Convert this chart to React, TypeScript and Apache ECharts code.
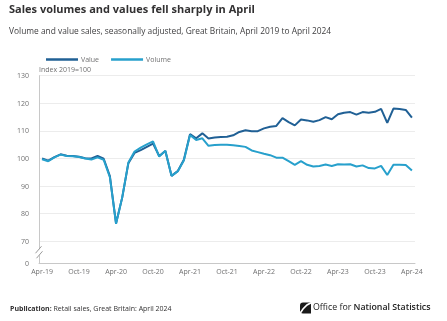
import React, { useEffect, useRef } from 'react';
import * as echarts from 'echarts';

const months = [
  'Apr-19', 'May-19', 'Jun-19', 'Jul-19', 'Aug-19', 'Sep-19', 'Oct-19', 'Nov-19', 'Dec-19',
  'Jan-20', 'Feb-20', 'Mar-20', 'Apr-20', 'May-20', 'Jun-20', 'Jul-20', 'Aug-20', 'Sep-20', 'Oct-20', 'Nov-20', 'Dec-20',
  'Jan-21', 'Feb-21', 'Mar-21', 'Apr-21', 'May-21', 'Jun-21', 'Jul-21', 'Aug-21', 'Sep-21', 'Oct-21', 'Nov-21', 'Dec-21',
  'Jan-22', 'Feb-22', 'Mar-22', 'Apr-22', 'May-22', 'Jun-22', 'Jul-22', 'Aug-22', 'Sep-22', 'Oct-22', 'Nov-22', 'Dec-22',
  'Jan-23', 'Feb-23', 'Mar-23', 'Apr-23', 'May-23', 'Jun-23', 'Jul-23', 'Aug-23', 'Sep-23', 'Oct-23', 'Nov-23', 'Dec-23',
  'Jan-24', 'Feb-24', 'Mar-24', 'Apr-24',
];

const valueSeries = [
  100.0, 99.2, 100.5, 101.5, 101.0, 100.9, 100.6, 100.1, 100.0, 100.9, 99.9, 93.6, 76.5, 85.8, 98.3,
  102.0, 103.0, 104.2, 105.4, 100.9, 102.7, 93.7, 95.4, 99.5, 108.8, 107.3, 109.1, 107.2, 107.6, 107.8,
  107.9, 108.4, 109.6, 110.2, 109.9, 109.9, 110.9, 111.5, 111.8, 114.6, 113.2, 112.0, 114.1, 113.8, 113.3,
  113.9, 115.0, 114.2, 116.0, 116.6, 116.8, 115.9, 116.8, 116.6, 116.9, 118.0, 112.9, 118.1, 117.9, 117.6, 114.8,
];

const volumeSeries = [
  99.7, 99.0, 100.4, 101.4, 100.9, 100.8, 100.5, 100.0, 99.6, 100.4, 99.5, 93.2, 76.3, 85.9, 98.5,
  102.5, 103.9, 105.1, 106.2, 100.7, 102.8, 93.7, 95.3, 99.3, 108.5, 106.7, 107.3, 104.6, 104.9, 105.0,
  105.0, 104.8, 104.5, 104.2, 102.9, 102.3, 101.7, 101.2, 100.3, 100.3, 99.0, 97.7, 99.0, 97.7, 97.1,
  97.3, 97.8, 97.3, 97.9, 97.8, 97.9, 97.1, 97.5, 96.5, 96.4, 97.3, 94.0, 97.7, 97.7, 97.6, 95.6,
];

const yTicks = [62, 70, 80, 90, 100, 110, 120, 130];
const yBreakValue = 66;

const FONT = '"Open Sans", "Noto Sans", sans-serif';
const GRID_LEFT = 39;

export default function App() {
  const ref = useRef<HTMLDivElement>(null);
  useEffect(() => {
    if (!ref.current) return;
    const chart = echarts.init(ref.current, null, { renderer: 'svg' });
    chart.setOption({
      animation: false,
      textStyle: { fontFamily: FONT },
      legend: {
        left: 41,
        top: 51,
        icon: 'rect',
        itemWidth: 32,
        itemHeight: 2.5,
        itemGap: 12,
        textStyle: { fontSize: 7, color: '#707071', fontFamily: FONT, padding: [0, 0, 0, -2] },
        data: ['Value', 'Volume'],
      },
      grid: { left: GRID_LEFT, top: 75.7, width: 376, height: 187.6, containLabel: false },
      xAxis: {
        type: 'category',
        data: months,
        boundaryGap: true,
        axisLine: { lineStyle: { color: '#c8c8c8', width: 1 } },
        axisTick: { alignWithLabel: true, interval: 5, length: 4, lineStyle: { color: '#c8c8c8' } },
        axisLabel: { interval: 5, fontSize: 7, color: '#707071', margin: 5, fontFamily: FONT },
        splitLine: { show: false },
      },
      yAxis: {
        type: 'value',
        min: 62,
        max: 130,
        axisLine: { show: true, lineStyle: { color: '#c8c8c8', width: 1 } },
        axisTick: { show: false, customValues: yTicks },
        axisLabel: {
          customValues: yTicks,
          fontSize: 7,
          color: '#707071',
          margin: 10,
          fontFamily: FONT,
          formatter: (v: number) => (v === 62 ? '0' : String(v)),
        },
        splitLine: { show: true, lineStyle: { color: '#ececec', width: 1 } },
      },
      series: [
        {
          name: 'Value',
          type: 'line',
          data: valueSeries,
          showSymbol: false,
          symbol: 'none',
          lineStyle: { color: '#206095', width: 2 },
          itemStyle: { color: '#206095' },
        },
        {
          name: 'Volume',
          type: 'line',
          data: volumeSeries,
          showSymbol: false,
          symbol: 'none',
          lineStyle: { color: '#27a0cc', width: 2 },
          itemStyle: { color: '#27a0cc' },
        },
      ],
    });

    const yc = chart.convertToPixel({ yAxisIndex: 0 }, yBreakValue) as number;
    const x = GRID_LEFT;
    chart.setOption({
      graphic: [
        {
          type: 'text', left: 9, top: 3,
          style: { text: 'Sales volumes and values fell sharply in April', fontSize: 11, fontWeight: 'bold', fill: '#323132', fontFamily: FONT },
        },
        {
          type: 'text', left: 9, top: 26.5,
          style: { text: 'Volume and value sales, seasonally adjusted, Great Britain, April 2019 to April 2024', fontSize: 8.4, fill: '#414042', fontFamily: FONT },
        },
        {
          type: 'text', left: 39, top: 66,
          style: { text: 'Index 2019=100', fontSize: 7, fill: '#707071', fontFamily: FONT },
        },
        { type: 'rect', shape: { x: x - 2, y: yc - 3, width: 4, height: 6 }, style: { fill: '#ffffff' }, z: 100 },
        { type: 'line', shape: { x1: x - 3.5, y1: yc + 1, x2: x + 2.5, y2: yc - 6 }, style: { stroke: '#9a9a9a', lineWidth: 1 }, z: 101 },
        { type: 'line', shape: { x1: x - 2.5, y1: yc + 6, x2: x + 3.5, y2: yc - 1 }, style: { stroke: '#9a9a9a', lineWidth: 1 }, z: 101 },
        {
          type: 'text', left: 10, top: 304.5,
          style: {
            text: '{b|Publication:} Retail sales, Great Britain: April 2024',
            fontSize: 7, fill: '#323132', fontFamily: FONT,
            rich: { b: { fontSize: 7, fontWeight: 'bold', fontFamily: FONT, fill: '#323132' } },
          },
        },
        { type: 'rect', shape: { x: 300, y: 302.5, width: 11, height: 11, r: [3, 0, 0, 3] }, style: { fill: '#1a1a1a' } },
        { type: 'polyline', shape: { points: [[300, 313.5], [303, 309], [307, 305], [311.5, 302.5]] }, style: { stroke: '#ffffff', lineWidth: 1.6, fill: 'none' } },
        {
          type: 'text', left: 313, top: 302.5,
          style: {
            text: 'Office for {b|National Statistics}',
            fontSize: 8.8, fill: '#222222', fontFamily: FONT,
            rich: { b: { fontSize: 8.8, fontWeight: 600, fontFamily: FONT, fill: '#222222' } },
          },
        },
      ],
    });
    return () => chart.dispose();
  }, []);
  return <div ref={ref} style={{ position: 'fixed', left: 0, top: 0, width: 447, height: 321 }} />;
}
